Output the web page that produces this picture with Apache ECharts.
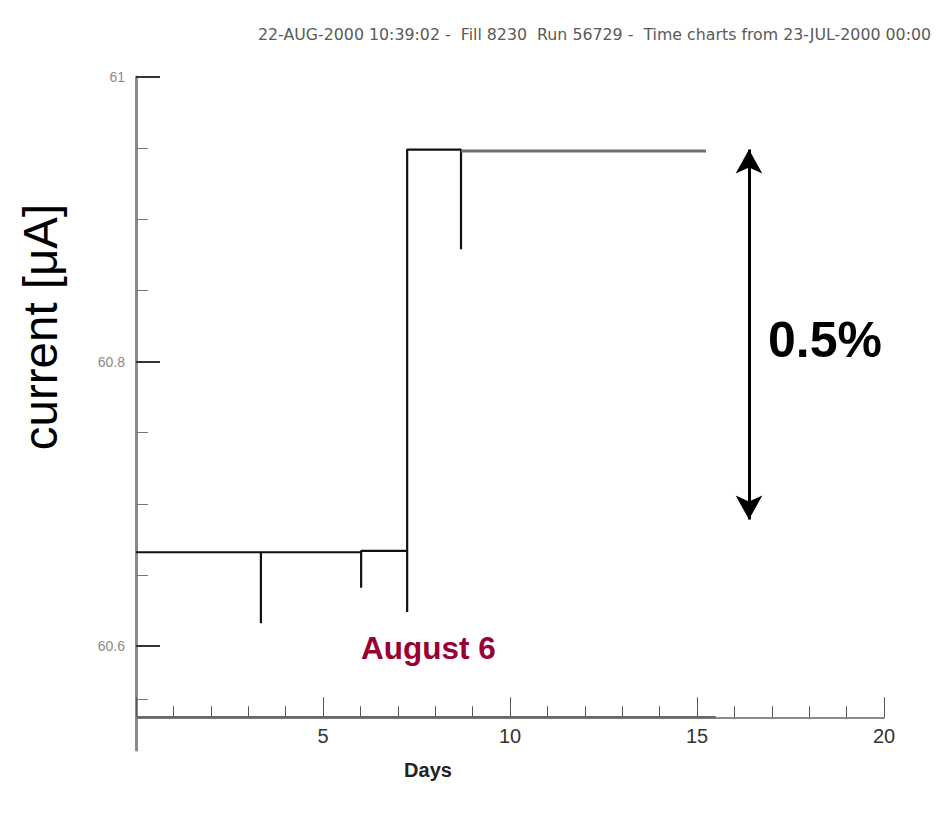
<!DOCTYPE html>
<html>
<head>
<meta charset="utf-8">
<script src="https://cdn.jsdelivr.net/npm/echarts@6/dist/echarts.min.js"></script>
<style>
  html, body { margin: 0; padding: 0; background: #ffffff; }
  #chart { width: 943px; height: 820px; }
</style>
</head>
<body>
<div id="chart"></div>
<script>
// Header line of the time chart
const headerText = '22-AUG-2000 10:39:02 -  Fill 8230  Run 56729 -  Time charts from 23-JUL-2000 00:00';

// Beam current trace (days since 23-JUL-2000, current in µA).
// Repeated day values draw the short vertical dips of the step trace.
const traceDays    = [0, 3.34, 3.34, 3.34, 6.02, 6.02, 6.02, 6.02, 7.25, 7.25, 7.25, 8.69, 8.69];
const traceCurrent = [60.666, 60.666, 60.616, 60.666, 60.666, 60.641, 60.667, 60.667, 60.667, 60.624, 60.949, 60.949, 60.879];

// Later part of the trace after the dip on day 8.7
const tailDays    = [8.69, 15.24];
const tailCurrent = [60.948, 60.948];

// Lower reference trace lying on the time axis
const baseDays    = [0, 15.5];
const baseCurrent = [60.55, 60.55];

// Double arrow marking the 0.5 % step
const stepDay = 16.39;
const stepTop = 60.949;
const stepBottom = 60.689;

// Axis ranges and ticks
const yMin = 60.527, yMax = 61, yAxisFloor = 60.55;
const yMajorTicks = [60.6, 60.8, 61];
const yMinorTicks = [60.563, 60.65, 60.7, 60.75, 60.85, 60.9, 60.95];
const xMin = 0, xMax = 20;
const xLabels = [5, 10, 15, 20];

const pairs = (xs, ys) => xs.map((x, i) => [x, ys[i]]);

const chart = echarts.init(document.getElementById('chart'), null, { renderer: 'svg' });

const gridTop = 77, gridBottom = 70;
const plotH = 820 - gridTop - gridBottom;
const xAxisOffset = -plotH * (yAxisFloor - yMin) / (yMax - yMin);

const option = {
  animation: false,
  backgroundColor: '#ffffff',
  title: {
    text: headerText,
    left: 253, top: 21,
    textStyle: { fontFamily: 'DejaVu Sans', fontSize: 15.8, fontWeight: 'normal', color: '#5a5a5a' }
  },
  grid: { left: 136, right: 59, top: gridTop, bottom: gridBottom, containLabel: false, outerBoundsMode: 'none' },
  xAxis: [
    {
      type: 'value', min: xMin, max: xMax, interval: 1, offset: xAxisOffset,
      axisLine: { show: true, lineStyle: { color: '#8a8a8a', width: 2 } },
      axisTick: { show: true, inside: true, length: 11, lineStyle: { color: '#555555', width: 1 } },
      axisLabel: { customValues: xLabels, margin: 9, fontFamily: 'Liberation Sans', fontSize: 20, color: '#333333' },
      splitLine: { show: false }
    },
    {
      type: 'value', min: xMin, max: xMax, interval: 5, offset: xAxisOffset, position: 'bottom',
      axisLine: { show: false },
      axisTick: { show: true, inside: true, length: 20, lineStyle: { color: '#555555', width: 1 } },
      axisLabel: { show: false },
      splitLine: { show: false }
    }
  ],
  yAxis: [
    {
      type: 'value', min: yMin, max: yMax,
      axisLine: { show: true, lineStyle: { color: '#8a8a8a', width: 3 } },
      axisTick: { show: true, inside: true, length: 24, customValues: yMajorTicks, lineStyle: { color: '#333333', width: 2 } },
      axisLabel: { customValues: yMajorTicks, margin: 11, fontFamily: 'Liberation Sans', fontSize: 14, color: '#8a8a8a' },
      splitLine: { show: false }
    },
    {
      type: 'value', min: yMin, max: yMax, position: 'left',
      axisLine: { show: false },
      axisTick: { show: true, inside: true, length: 12, customValues: yMinorTicks, lineStyle: { color: '#777777', width: 1 } },
      axisLabel: { show: false },
      splitLine: { show: false }
    }
  ],
  series: [
    {
      name: 'base', type: 'line', xAxisIndex: 0, yAxisIndex: 0,
      data: pairs(baseDays, baseCurrent), showSymbol: false, silent: true,
      lineStyle: { color: '#6a6a6a', width: 2.5 }
    },
    {
      name: 'current', type: 'line', xAxisIndex: 0, yAxisIndex: 0,
      data: pairs(traceDays, traceCurrent), showSymbol: false, silent: true,
      lineStyle: { color: '#111111', width: 2.2 }
    },
    {
      name: 'current tail', type: 'line', xAxisIndex: 0, yAxisIndex: 0,
      data: pairs(tailDays, tailCurrent), showSymbol: false, silent: true,
      lineStyle: { color: '#6e6e6e', width: 3 },
      markLine: {
        silent: true, animation: false,
        symbol: ['arrow', 'arrow'], symbolSize: [20, 24],
        lineStyle: { color: '#000000', width: 3, type: 'solid' },
        label: { show: false },
        data: [[{ coord: [stepDay, stepTop] }, { coord: [stepDay, stepBottom] }]]
      }
    }
  ],
  graphic: [
    {
      type: 'text', x: 40, y: 327, rotation: Math.PI / 2,
      style: { text: 'current [μA]', fontFamily: 'Liberation Sans', fontSize: 47.5, fill: '#000000',
               textAlign: 'center', textVerticalAlign: 'middle' }
    },
    {
      type: 'text', x: 768, y: 340,
      style: { text: '0.5%', fontFamily: 'Liberation Sans', fontSize: 50, fontWeight: 'bold', fill: '#000000',
               textAlign: 'left', textVerticalAlign: 'middle' }
    },
    {
      type: 'text', x: 361, y: 648,
      style: { text: 'August 6', fontFamily: 'Liberation Sans', fontSize: 31.5, fontWeight: 'bold', fill: '#990033',
               textAlign: 'left', textVerticalAlign: 'middle' }
    },
    {
      type: 'text', x: 428, y: 770,
      style: { text: 'Days', fontFamily: 'Liberation Sans', fontSize: 20, fontWeight: 'bold', fill: '#222222',
               textAlign: 'center', textVerticalAlign: 'middle' }
    }
  ]
};

chart.setOption(option);
</script>
</body>
</html>
